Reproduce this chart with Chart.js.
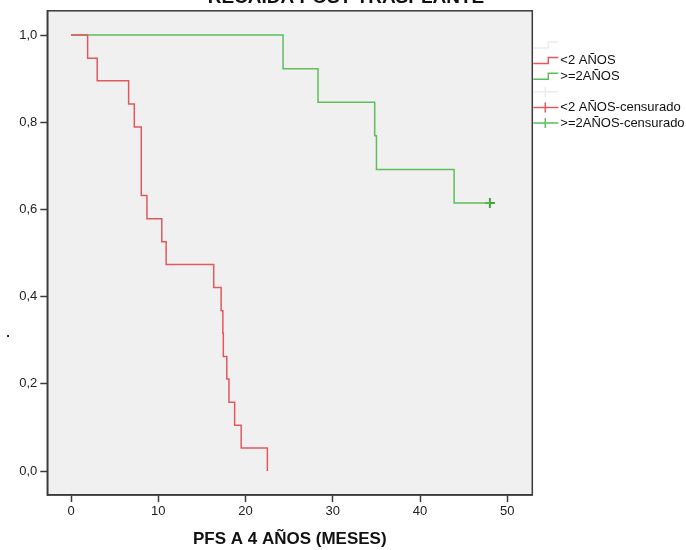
<!DOCTYPE html>
<html>
<head>
    <title>Recaida post trasplante</title>
    <style>
        body {
            margin: 0;
            background: #fff;
        }
        #chart-container {
            width: 686px;
            height: 550px;
        }
    </style>
</head>
<body>
<div id="chart-container">
    <canvas id="kmChart" width="686" height="550"></canvas>
</div>

<script src="https://cdn.jsdelivr.net/npm/chart.js"></script>

<script>
    const chartTitle = 'RECAIDA POST TRASPLANTE';
    const xAxisTitle = 'PFS A 4 AÑOS (MESES)';
    const yAxisTitle = '.';

    const xTicks = [0, 10, 20, 30, 40, 50];
    const yTicks = [0, 0.2, 0.4, 0.6, 0.8, 1.0];
    const yTickLabels = ['0,0', '0,2', '0,4', '0,6', '0,8', '1,0'];

    // Kaplan-Meier steps
    const under2Months = [0, 1.9, 3.0, 6.6, 7.25, 8.05, 8.7, 10.4, 10.9, 16.35, 17.2, 17.4, 17.45, 17.85, 18.1, 18.75, 19.5, 22.5];
    const under2Surv = [1, 0.947, 0.895, 0.842, 0.789, 0.632, 0.579, 0.526, 0.474, 0.421, 0.368, 0.316, 0.263, 0.211, 0.158, 0.105, 0.053, 0];
    const over2Months = [0, 24.3, 28.3, 34.8, 35.0, 43.9, 48.0];
    const over2Surv = [1, 0.923, 0.846, 0.769, 0.692, 0.615, 0.615];

    // censored cases
    const under2CensMonths = [];
    const under2CensSurv = [];
    const over2CensMonths = [48.0];
    const over2CensSurv = [0.615];

    const legendLabels = ['', '<2 AÑOS', '>=2AÑOS', '', '<2 AÑOS-censurado', '>=2AÑOS-censurado'];

    const RED = '#e2585e';
    const GREEN = '#5cbf5c';
    const GREEN_DARK = '#3fa53f';

    function toPoints(xs, ys) {
        return xs.map((x, i) => ({x: x, y: ys[i]}));
    }

    const spssFrame = {
        id: 'spssFrame',
        beforeDraw(chart) {
            const {ctx, chartArea: a} = chart;
            ctx.save();
            ctx.fillStyle = '#f0f0f0';
            ctx.fillRect(a.left, a.top, a.right - a.left, a.bottom - a.top);
            ctx.restore();
        },
        afterDraw(chart) {
            const {ctx, chartArea: a} = chart;
            ctx.save();
            ctx.strokeStyle = '#3a3a3a';
            ctx.lineWidth = 1.5;
            ctx.strokeRect(a.left, a.top, a.right - a.left, a.bottom - a.top);

            // title, mostly cut off at the top edge
            ctx.fillStyle = '#111';
            ctx.font = 'bold 19px "Liberation Sans", Arial, sans-serif';
            ctx.textAlign = 'center';
            ctx.textBaseline = 'alphabetic';
            ctx.fillText(chartTitle, 346, 3);

            // y axis title (just a dot)
            ctx.font = 'bold 13px "Liberation Sans", Arial, sans-serif';
            ctx.fillText(yAxisTitle, 8, 337);

            // legend
            const colors = ['#ececec', RED, GREEN, '#ececec', RED, GREEN];
            const kinds = ['step', 'step', 'step', 'cross', 'cross', 'cross'];
            const x0 = a.right + 1, x1 = x0 + 25;
            ctx.font = '13px "Liberation Sans", Arial, sans-serif';
            ctx.textAlign = 'left';
            ctx.textBaseline = 'middle';
            legendLabels.forEach((label, i) => {
                const y = 45 + i * 15.6;
                ctx.strokeStyle = colors[i];
                ctx.lineWidth = 1.5;
                ctx.beginPath();
                if (kinds[i] === 'step') {
                    const mid = x0 + 15;
                    ctx.moveTo(x0, y + 3);
                    ctx.lineTo(mid, y + 3);
                    ctx.lineTo(mid, y - 3);
                    ctx.lineTo(x1, y - 3);
                } else {
                    const mid = x0 + 12;
                    ctx.moveTo(x0, y);
                    ctx.lineTo(x1, y);
                    ctx.moveTo(mid, y - 5);
                    ctx.lineTo(mid, y + 5);
                }
                ctx.stroke();
                ctx.fillStyle = '#111';
                ctx.fillText(label, x1 + 2, y);
            });
            ctx.restore();
        }
    };

    const ctx = document.getElementById('kmChart').getContext('2d');
    const kmChart = new Chart(ctx, {
        type: 'line',
        data: {
            datasets: [{
                label: '<2 AÑOS',
                data: toPoints(under2Months, under2Surv),
                borderColor: RED,
                borderWidth: 1.5,
                stepped: true,
                pointRadius: 0,
                fill: false
            }, {
                label: '>=2AÑOS',
                data: toPoints(over2Months, over2Surv),
                borderColor: GREEN,
                borderWidth: 1.5,
                stepped: true,
                pointRadius: 0,
                fill: false
            }, {
                label: '<2 AÑOS-censurado',
                data: toPoints(under2CensMonths, under2CensSurv),
                showLine: false,
                pointStyle: 'cross',
                pointRadius: 5,
                pointBorderWidth: 2,
                pointBorderColor: RED
            }, {
                label: '>=2AÑOS-censurado',
                data: toPoints(over2CensMonths, over2CensSurv),
                showLine: false,
                pointStyle: 'cross',
                pointRadius: 5,
                pointBorderWidth: 2,
                pointBorderColor: GREEN_DARK
            }]
        },
        options: {
            responsive: false,
            animation: false,
            layout: {
                padding: {left: 0, right: 153.7, top: 8.3, bottom: 0}
            },
            plugins: {
                legend: {display: false},
                tooltip: {enabled: false}
            },
            scales: {
                x: {
                    type: 'linear',
                    min: -2.72,
                    max: 52.86,
                    afterBuildTicks: s => { s.ticks = xTicks.map(v => ({value: v})); },
                    afterFit: s => { s.height = 55; },
                    ticks: {
                        color: '#222',
                        font: {family: '"Liberation Sans", Arial, sans-serif', size: 13},
                        padding: 2,
                        maxRotation: 0
                    },
                    grid: {
                        drawOnChartArea: false,
                        drawTicks: true,
                        tickLength: 7,
                        tickColor: '#3a3a3a',
                        tickWidth: 1.5
                    },
                    border: {color: '#3a3a3a', width: 1.5},
                    title: {
                        display: true,
                        text: xAxisTitle,
                        color: '#111',
                        font: {family: '"Liberation Sans", Arial, sans-serif', size: 17, weight: 'bold'},
                        padding: {top: 0, bottom: 0}
                    }
                },
                y: {
                    min: -0.0548,
                    max: 1.0557,
                    afterBuildTicks: s => { s.ticks = yTicks.map(v => ({value: v})); },
                    afterFit: s => { s.width = 47.3; },
                    ticks: {
                        color: '#222',
                        font: {family: '"Liberation Sans", Arial, sans-serif', size: 13},
                        padding: 3,
                        callback: (v, i) => yTickLabels[i]
                    },
                    grid: {
                        drawOnChartArea: false,
                        drawTicks: true,
                        tickLength: 7,
                        tickColor: '#3a3a3a',
                        tickWidth: 1.5
                    },
                    border: {color: '#3a3a3a', width: 1.5}
                }
            }
        },
        plugins: [spssFrame]
    });
</script>
</body>
</html>
